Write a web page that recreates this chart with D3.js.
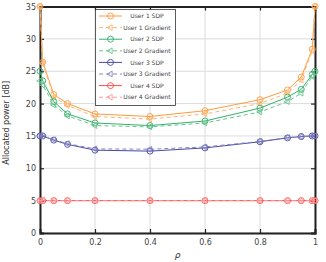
<!DOCTYPE html>
<html>
<head>
<meta charset="utf-8">
<script src="https://cdn.jsdelivr.net/npm/d3@7"></script>
<style>
  body { margin: 0; background: #fff; }
  text { font-family: "DejaVu Sans", sans-serif; }
</style>
</head>
<body>
<svg></svg>
<script>
const width = 326;
const height = 262;
const margin = {top: 6.5, right: 11, bottom: 29, left: 40};

// rho values
const rho = [0, 0.01, 0.05, 0.1, 0.2, 0.4, 0.6, 0.8, 0.9, 0.95, 0.99, 1];
const u1Sdp  = [35, 26.4, 21.4, 20.0, 18.4, 18.0, 18.9, 20.6, 22.1, 24.1, 28.4, 35];
const u1Grad = [35, 26.2, 21.0, 19.7, 18.0, 17.6, 18.4, 20.0, 21.6, 23.6, 28.2, 35];
const u2Sdp  = [25, 23.5, 20.3, 18.4, 17.0, 16.6, 17.3, 19.3, 21.0, 22.2, 24.5, 25];
const u2Grad = [23.5, 22.9, 19.8, 18.1, 16.6, 16.4, 17.0, 18.7, 20.3, 21.6, 24.2, 24.8];
const u3Sdp  = [15, 15, 14.35, 13.7, 12.8, 12.65, 13.15, 14.1, 14.7, 14.9, 15, 15];
const u3Grad = [15, 15, 14.4, 13.8, 13.0, 12.95, 13.3, 14.15, 14.75, 14.9, 15, 15];
const u4Sdp  = [5, 5, 5, 5, 5, 5, 5, 5, 5, 5, 5, 5];
const u4Grad = [5, 5, 5, 5, 5, 5, 5, 5, 5, 5, 5, 5];

const xTicks = [0, 0.2, 0.4, 0.6, 0.8, 1];
const yTicks = [0, 5, 10, 15, 20, 25, 30, 35];

const series = [
  {name: 'User 1 SDP', values: u1Sdp, color: '#ff9a3c', dash: null, marker: 'circle'},
  {name: 'User 1 Gradient', values: u1Grad, color: '#ffb46e', dash: '4,3', marker: 'tri'},
  {name: 'User 2 SDP', values: u2Sdp, color: '#33b06a', dash: null, marker: 'circle'},
  {name: 'User 2 Gradient', values: u2Grad, color: '#66c48e', dash: '4,3', marker: 'tri'},
  {name: 'User 3 SDP', values: u3Sdp, color: '#4848a0', dash: null, marker: 'circle'},
  {name: 'User 3 Gradient', values: u3Grad, color: '#8585c4', dash: '4,3', marker: 'tri'},
  {name: 'User 4 SDP', values: u4Sdp, color: '#ff4d4d', dash: null, marker: 'circle'},
  {name: 'User 4 Gradient', values: u4Grad, color: '#ff9999', dash: '4,3', marker: 'tri'}
];

const svg = d3.select('svg').attr('width', width).attr('height', height);
const x = d3.scaleLinear().domain([0, 1]).range([margin.left, width - margin.right]);
const y = d3.scaleLinear().domain([0, 35]).range([height - margin.bottom, margin.top]);

// grid
svg.append('g').selectAll('line').data(xTicks).enter().append('line')
  .attr('x1', d => x(d)).attr('x2', d => x(d))
  .attr('y1', y(0)).attr('y2', y(35))
  .style('stroke', '#dcdcdc').style('stroke-width', 1);
svg.append('g').selectAll('line').data(yTicks).enter().append('line')
  .attr('x1', x(0)).attr('x2', x(1))
  .attr('y1', d => y(d)).attr('y2', d => y(d))
  .style('stroke', '#dcdcdc').style('stroke-width', 1);

// axes with inward ticks
const fmt = d => d3.format('')(d);
svg.append('g').attr('transform', 'translate(0,' + y(0) + ')')
  .call(d3.axisBottom(x).tickValues(xTicks).tickSize(-4).tickPadding(6).tickFormat(fmt));
svg.append('g').attr('transform', 'translate(' + x(0) + ',0)')
  .call(d3.axisLeft(y).tickValues(yTicks).tickSize(-4).tickPadding(4));
svg.append('g').attr('transform', 'translate(0,' + y(35) + ')')
  .call(d3.axisTop(x).tickValues(xTicks).tickSize(-4).tickFormat(''));
svg.append('g').attr('transform', 'translate(' + x(1) + ',0)')
  .call(d3.axisRight(y).tickValues(yTicks).tickSize(-4).tickFormat(''));
svg.selectAll('.domain').style('stroke', '#222').style('stroke-width', 2);
svg.selectAll('.tick line').style('stroke', '#222').style('stroke-width', 1.2);
svg.selectAll('.tick text').style('font-size', '8px').style('fill', '#444')
  .style('font-family', '"DejaVu Sans", sans-serif');

// lines and markers
const line = d3.line().x((d, i) => x(rho[i])).y(d => y(d));
const tri = d3.symbol().type(d3.symbolTriangle).size(14);

function drawMarker(g, kind, cx, cy, color) {
  if (kind === 'circle') {
    g.append('circle').attr('cx', cx).attr('cy', cy).attr('r', 3)
      .style('fill', 'none').style('stroke', color).style('stroke-width', 0.9);
  } else {
    g.append('path').attr('d', tri)
      .attr('transform', 'translate(' + cx + ',' + cy + ') rotate(-90)')
      .style('fill', 'none').style('stroke', color).style('stroke-width', 0.9);
  }
}

series.forEach(s => {
  const g = svg.append('g');
  g.append('path').datum(s.values).attr('d', line)
    .style('fill', 'none').style('stroke', s.color).style('stroke-width', 1)
    .style('stroke-dasharray', s.dash);
  s.values.forEach((v, i) => drawMarker(g, s.marker, x(rho[i]), y(v), s.color));
});

// legend
const legend = svg.append('g');
legend.append('rect').attr('x', 95.5).attr('y', 9.5).attr('width', 80).attr('height', 96)
  .style('fill', '#fff').style('stroke', '#333').style('stroke-width', 0.8);
series.forEach((s, i) => {
  const ly = 16 + i * 11.6;
  legend.append('line').attr('x1', 99).attr('x2', 122).attr('y1', ly).attr('y2', ly)
    .style('stroke', s.color).style('stroke-width', 1).style('stroke-dasharray', s.dash);
  drawMarker(legend, s.marker, 110.5, ly, s.color);
  legend.append('text').attr('x', 147).attr('y', ly).attr('dy', '0.35em')
    .attr('text-anchor', 'middle').style('font-size', '6px').style('fill', '#444')
    .text(s.name);
});

// axis labels
svg.append('text').attr('transform', 'translate(9,' + ((y(0) + y(35)) / 2 + 3) + ') rotate(-90)')
  .attr('text-anchor', 'middle').style('font-size', '8px').style('fill', '#333')
  .text('Allocated power [dB]');
svg.append('text').attr('x', (x(0) + x(1)) / 2).attr('y', 258)
  .attr('text-anchor', 'middle').style('font-size', '9px').style('font-style', 'italic')
  .style('fill', '#333').text('ρ');
</script>
</body>
</html>
